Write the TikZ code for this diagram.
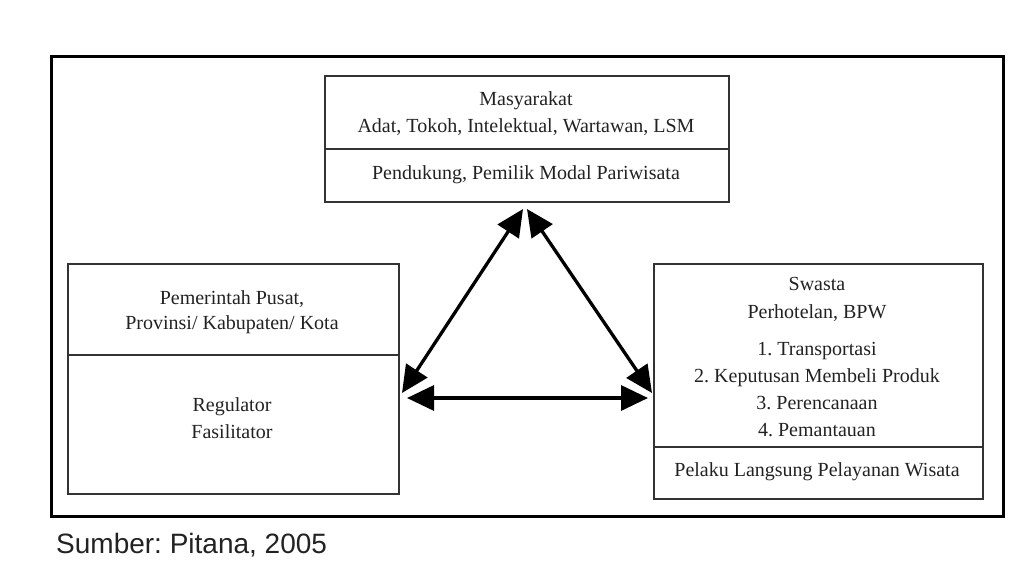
\documentclass[tikz,border=0pt]{standalone}
\usepackage{fontspec}
\setmainfont{Liberation Serif}
\newfontfamily\srcfont{Liberation Sans}
\usetikzlibrary{arrows.meta}
\definecolor{ink}{HTML}{222222}
\definecolor{boxline}{HTML}{333333}
\frenchspacing
\tikzset{
  box/.style={draw=boxline, line width=2pt, inner sep=0pt, anchor=north west},
  divider/.style={draw=boxline, line width=2pt},
  frame/.style={draw=black, line width=3pt},
  lbl/.style={text=ink, align=center, inner sep=0pt,
    font=\fontsize{20}{27}\selectfont},
  src/.style={text=ink, inner sep=0pt, anchor=west,
    font=\srcfont\fontsize{28}{32}\selectfont},
  biarrow/.style={draw=black, line width=3.3pt,
    {Triangle[length=27pt,width=25pt]}-{Triangle[length=27pt,width=25pt]}}
}
\begin{document}
\begin{tikzpicture}[x=1pt,y=-1pt]
\useasboundingbox (0,0) rectangle (1028,573);
% outer frame
\node[frame, inner sep=0pt, anchor=north west, minimum width=952pt, minimum height=460pt] (outer) at (50,55) {};
% top box
\node[box, minimum width=404pt, minimum height=126pt] (top) at (324,75) {};
\draw[divider] (top.west |- 0,149) -- (top.east |- 0,149);
\node[lbl] (topa) at (526,113.5) {Masyarakat\\Adat, Tokoh, Intelektual, Wartawan, LSM};
\node[lbl] (topb) at (526,175) {Pendukung, Pemilik Modal Pariwisata};
% left box
\node[box, minimum width=331pt, minimum height=230pt] (left) at (67,263) {};
\draw[divider] (left.west |- 0,355) -- (left.east |- 0,355);
\node[lbl, font=\fontsize{20}{25}\selectfont] (lefta) at (232,312) {Pemerintah Pusat,\\Provinsi/ Kabupaten/ Kota};
\node[lbl] (leftb) at (232,418.5) {Regulator\\Fasilitator};
% right box
\node[box, minimum width=329pt, minimum height=235pt] (right) at (653,263) {};
\draw[divider] (right.west |- 0,447) -- (right.east |- 0,447);
\node[lbl, font=\fontsize{20}{28}\selectfont] (righta) at (817,299) {Swasta\\Perhotelan, BPW};
\node[lbl] (rightb) at (817,389.5) {1. Transportasi\\2. Keputusan Membeli Produk\\3. Perencanaan\\4. Pemantauan};
\node[lbl] (rightc) at (817,472) {Pelaku Langsung Pelayanan Wisata};
% arrow end points
\coordinate (lt) at (402,393);
\coordinate (tl) at (523,209);
\coordinate (tr) at (527,209);
\coordinate (rt) at (652,393);
\coordinate (lh) at (407,398);
\coordinate (rh) at (648,398);
\draw[biarrow] (lt) -- (tl);
\draw[biarrow] (tr) -- (rt);
\draw[biarrow] (lh) -- (rh);
% source
\node[src] (source) at (56,545) {Sumber: Pitana, 2005};
\end{tikzpicture}
\end{document}
